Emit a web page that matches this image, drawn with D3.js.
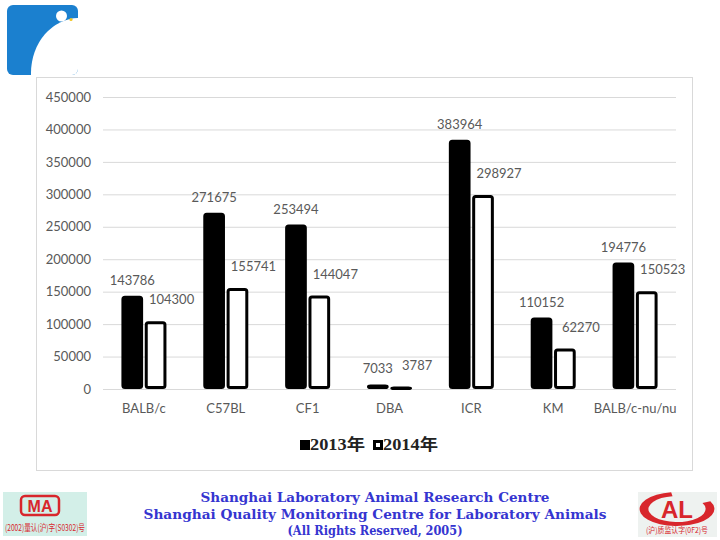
<!DOCTYPE html>
<html>
<head>
<meta charset="utf-8">
<script src="https://cdn.jsdelivr.net/npm/d3@7"></script>
<style>
  body { margin: 0; background: #fff; }
  svg { display: block; }
</style>
</head>
<body>
<div id="chart"></div>
<script>
// Mouse strain usage, 2013 vs 2014 (grouped bars)

const categories = ["BALB/c", "C57BL", "CF1", "DBA", "ICR", "KM", "BALB/c-nu/nu"]
const values2013 = [143786, 271675, 253494, 7033, 383964, 110152, 194776]
const values2014 = [104300, 155741, 144047, 3787, 298927, 62270, 150523]
const seriesNames = ["2013年", "2014年"]
const yTicks = [0, 50000, 100000, 150000, 200000, 250000, 300000, 350000, 400000, 450000]

const footerLines = [
  "Shanghai Laboratory Animal Research Centre",
  "Shanghai Quality Monitoring Centre for Laboratory Animals",
  "(All Rights Reserved, 2005)"
]

const WIDTH = 720
const HEIGHT = 540
const PLOT = {LEFT: 103, RIGHT: 676, TOP: 97, BOTTOM: 389}
const LABEL_FONT = "Lato, 'Open Sans', sans-serif"
const GREY = "#595959"
const STROKE = 3

const svg = d3.select("#chart")
  .append("svg")
    .attr("width", WIDTH)
    .attr("height", HEIGHT)

// HEADER LOGO (blue square with white mouse)
const logo = svg.append("g")
svg.append("clipPath").attr("id", "logo-clip")
  .append("rect")
    .attr("x", 7).attr("y", 5).attr("width", 71).attr("height", 70).attr("rx", 6)
logo.append("rect")
  .attr("x", 7).attr("y", 5).attr("width", 71).attr("height", 70).attr("rx", 6)
  .attr("fill", "#1b80cf")
logo.append("ellipse")
  .attr("clip-path", "url(#logo-clip)")
  .attr("cx", 79).attr("cy", 73).attr("rx", 48).attr("ry", 55)
  .attr("fill", "#fff")
logo.append("circle")
  .attr("cx", 61.5).attr("cy", 16).attr("r", 5.5)
  .attr("fill", "#fff")
logo.append("circle")
  .attr("cx", 71).attr("cy", 19.5).attr("r", 1.6)
  .attr("fill", "#f2c520")

// CHART FRAME
svg.append("rect")
  .attr("x", 36.5).attr("y", 77.5)
  .attr("width", 656).attr("height", 393)
  .attr("fill", "#fff")
  .attr("stroke", "#d9d9d9")

// SCALES
const x0 = d3.scaleBand()
  .domain(categories)
  .range([PLOT.LEFT, PLOT.RIGHT])
  .paddingInner(0.45)
  .paddingOuter(0.225)

const x1 = d3.scaleBand()
  .domain([0, 1])
  .range([0, x0.bandwidth()])
  .paddingInner(0.07)

const y = d3.scaleLinear()
  .domain([0, 450000])
  .range([PLOT.BOTTOM, PLOT.TOP])

// GRIDLINES + Y AXIS
const yAxis = svg.append("g")
  .attr("transform", "translate(" + PLOT.LEFT + ",0)")
  .call(d3.axisLeft(y)
    .tickValues(yTicks)
    .tickSize(-(PLOT.RIGHT - PLOT.LEFT))
    .tickPadding(12)
    .tickFormat(d3.format("d")))
yAxis.select(".domain").remove()
yAxis.selectAll(".tick line").attr("stroke", "#d9d9d9")
yAxis.selectAll(".tick text")
  .attr("fill", GREY)
  .style("font-family", LABEL_FONT)
  .style("font-size", "13px")

// X AXIS (labels only)
const xAxis = svg.append("g")
  .attr("transform", "translate(0," + PLOT.BOTTOM + ")")
  .call(d3.axisBottom(x0).tickSize(0).tickPadding(15))
xAxis.select(".domain").remove()
xAxis.selectAll(".tick text")
  .attr("fill", GREY)
  .style("font-family", LABEL_FONT)
  .style("font-size", "13px")

// BARS
const rows = categories.map((c, i) => ({cat: c, vals: [values2013[i], values2014[i]]}))

const groups = svg.selectAll("g.grp")
  .data(rows)
  .enter()
  .append("g")
    .attr("class", "grp")
    .attr("transform", d => "translate(" + x0(d.cat) + ",0)")

groups.selectAll("rect")
  .data(d => d.vals.map((v, s) => ({v, s})))
  .enter()
  .append("rect")
    .attr("x", d => x1(d.s) + STROKE / 2)
    .attr("y", d => y(d.v) + STROKE / 2)
    .attr("width", x1.bandwidth() - STROKE)
    .attr("height", d => Math.max(0.5, y(0) - y(d.v) - STROKE))
    .attr("rx", 2)
    .attr("fill", d => d.s === 0 ? "#000" : "#fff")
    .attr("stroke", "#000")
    .attr("stroke-width", STROKE)

// VALUE LABELS (2014 labels sit up and to the right, as in the original)
groups.selectAll("text.val")
  .data(d => d.vals.map((v, s) => ({v, s})))
  .enter()
  .append("text")
    .attr("class", "val")
    .attr("x", d => x1(d.s) + x1.bandwidth() / 2 + (d.s === 1 ? 16 : 0))
    .attr("y", d => y(d.v) - (d.s === 1 ? 17 : 11))
    .attr("text-anchor", "middle")
    .attr("fill", GREY)
    .style("font-family", LABEL_FONT)
    .style("font-size", "13px")
    .text(d => d.v)

// LEGEND
const legend = svg.append("g").attr("transform", "translate(300,440)")
const legendX = [0, 73]
seriesNames.forEach((name, i) => {
  legend.append("rect")
    .attr("x", legendX[i] + 1.5).attr("y", 1.5)
    .attr("width", 7).attr("height", 7)
    .attr("fill", i === 0 ? "#000" : "#fff")
    .attr("stroke", "#000").attr("stroke-width", 3)
  legend.append("text")
    .attr("x", legendX[i] + 10).attr("y", 10)
    .attr("textLength", 55)
    .attr("lengthAdjust", "spacingAndGlyphs")
    .attr("fill", "#222")
    .style("font-family", "'Liberation Serif', 'Noto Sans CJK SC', serif")
    .style("font-weight", "bold")
    .style("font-size", "16px")
    .text(name)
})

// FOOTER TEXT
const footerLens = [349, 463, 175]
footerLines.forEach((line, i) => {
  svg.append("text")
    .attr("x", 375).attr("y", 502 + i * 16.5)
    .attr("text-anchor", "middle")
    .attr("textLength", footerLens[i])
    .attr("lengthAdjust", "spacingAndGlyphs")
    .attr("fill", "#3535d0")
    .style("font-family", "'DejaVu Serif', serif")
    .style("font-weight", "bold")
    .style("font-size", "13px")
    .text(line)
})

// FOOTER LOGOS
const ma = svg.append("g")
ma.append("rect").attr("x", 3).attr("y", 492).attr("width", 84).attr("height", 44)
  .attr("fill", "#d3efe8")
ma.append("rect").attr("x", 21).attr("y", 496).attr("width", 38).attr("height", 19).attr("rx", 4)
  .attr("fill", "none").attr("stroke", "#d8262c").attr("stroke-width", 2.5)
ma.append("text").attr("x", 40).attr("y", 512).attr("text-anchor", "middle")
  .attr("fill", "#d8262c")
  .style("font-family", "'Liberation Sans', sans-serif").style("font-weight", "bold")
  .style("font-size", "16px").text("MA")
ma.append("text").attr("x", 45).attr("y", 531).attr("text-anchor", "middle")
  .attr("textLength", 80).attr("lengthAdjust", "spacingAndGlyphs")
  .attr("fill", "#d8262c")
  .style("font-family", "'Noto Sans CJK SC', sans-serif")
  .style("font-size", "9px").text("(2002)量认(沪)字(S0302)号")

const al = svg.append("g")
al.append("rect").attr("x", 638).attr("y", 492).attr("width", 79).attr("height", 45)
  .attr("fill", "#eef2f0")
al.append("path")
  .attr("d", d3.arc()({innerRadius: 13, outerRadius: 17, startAngle: 0.35 * Math.PI, endAngle: 1.95 * Math.PI}))
  .attr("transform", "translate(677,509) scale(2.2,1)")
  .attr("fill", "#d8262c")
al.append("text").attr("x", 677).attr("y", 518).attr("text-anchor", "middle")
  .attr("fill", "#d8262c")
  .style("font-family", "'Liberation Sans', sans-serif").style("font-weight", "bold")
  .style("font-size", "24px").text("AL")
al.append("text").attr("x", 677).attr("y", 533).attr("text-anchor", "middle")
  .attr("textLength", 62).attr("lengthAdjust", "spacingAndGlyphs")
  .attr("fill", "#d8262c")
  .style("font-family", "'Noto Sans CJK SC', sans-serif")
  .style("font-size", "8px").text("(沪)质监认字(0F2)号")
</script>
</body>
</html>
